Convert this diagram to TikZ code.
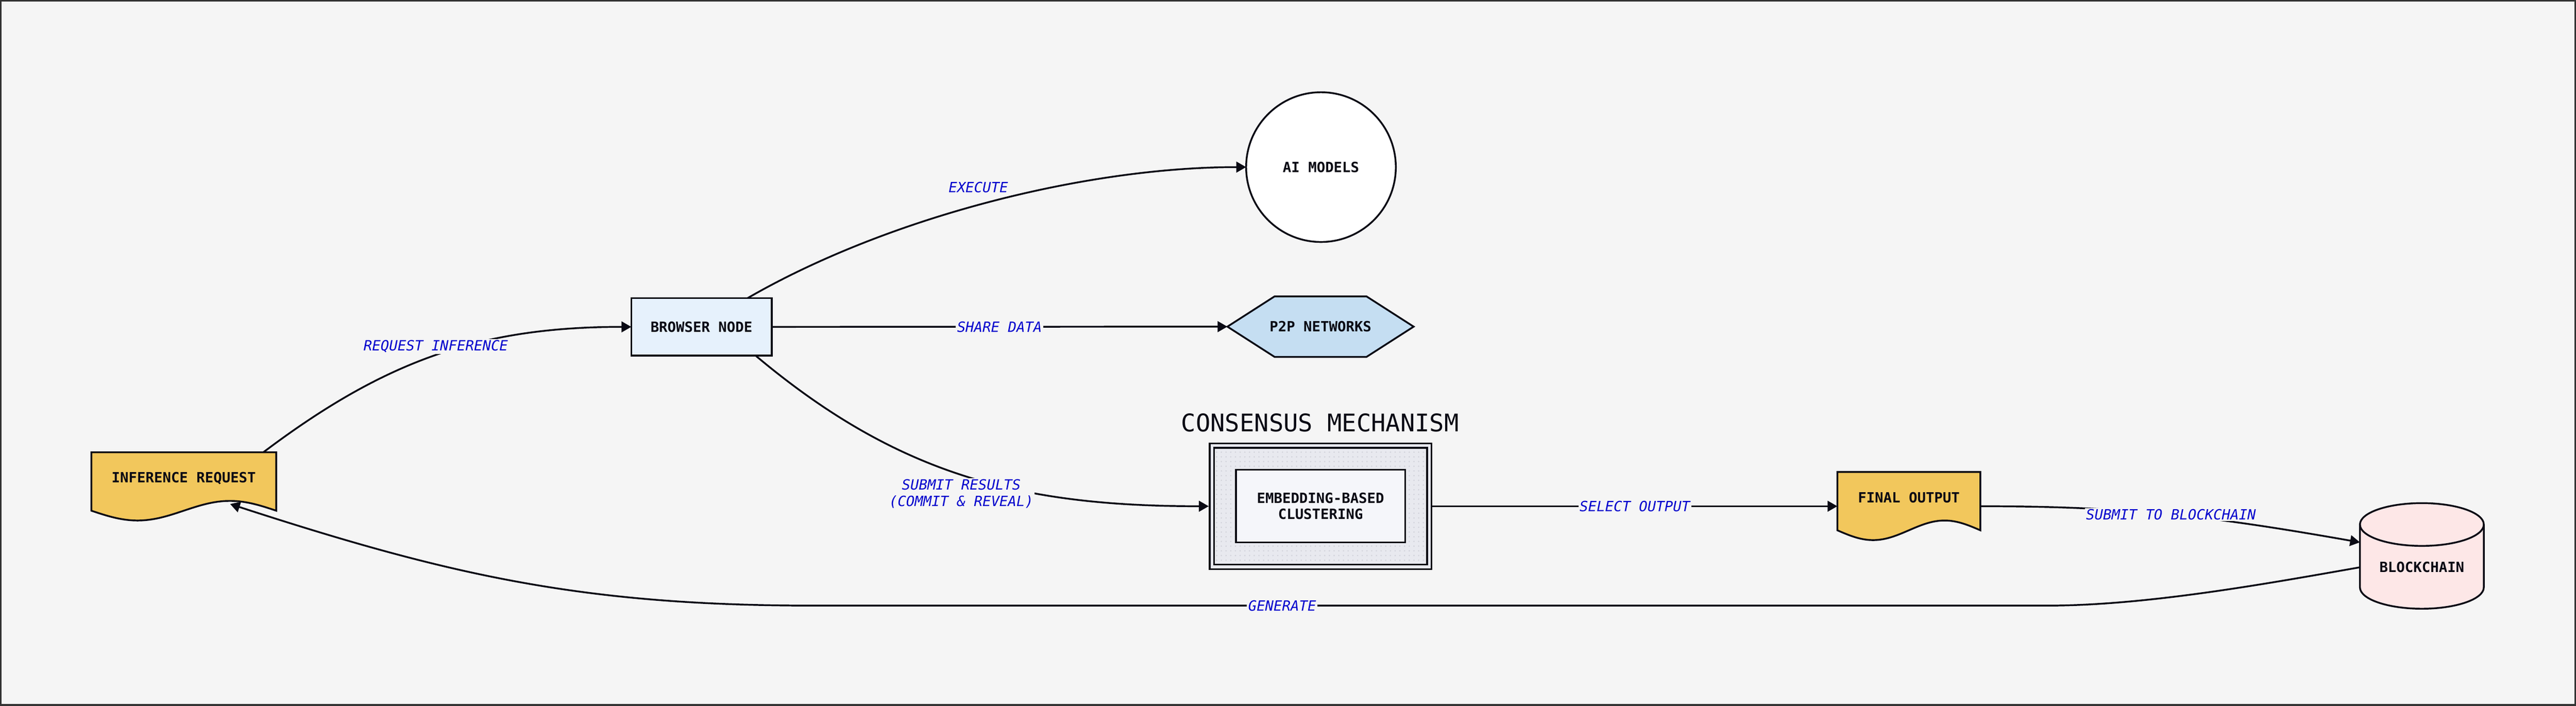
\documentclass[tikz,border=0pt]{standalone}
\usepackage{fontspec}
\setmonofont{DejaVu Sans Mono}
\usetikzlibrary{arrows.meta,backgrounds,patterns}
\definecolor{bgc}{HTML}{F5F5F5}
\definecolor{framec}{HTML}{333333}
\definecolor{ink}{HTML}{0A0A14}
\definecolor{lblue}{HTML}{0000CD}
\definecolor{gold}{HTML}{F2C75C}
\definecolor{bnfill}{HTML}{E6F1FC}
\definecolor{p2pfill}{HTML}{C5DEF2}
\definecolor{cmfill}{HTML}{E8E9EF}
\definecolor{cminner}{HTML}{F5F6FA}
\definecolor{bcfill}{HTML}{FDE7E7}
\definecolor{dotc}{HTML}{D2D3DB}
\tikzset{
  nbox/.style={font=\ttfamily\bfseries\fontsize{9}{10.4}\selectfont, text=ink, align=center, inner sep=0pt, outer sep=0pt},
  flow/.style={draw=ink, line width=0.04cm, -{Triangle[length=0.22cm,width=0.24cm]}},
  elabel/.style={font=\ttfamily\itshape\fontsize{9}{10.4}\selectfont, text=lblue, fill=bgc, inner sep=0.03cm, align=center},
  shp/.style={draw=ink, line width=0.04cm}
}
\begin{document}
\begin{tikzpicture}
	\useasboundingbox (0,0) rectangle (57.82,15.84);
	\node[nbox, minimum width=4.15cm, minimum height=1.16cm] (ir) at (4.125,5.11) {INFERENCE REQUEST};
	\node[nbox, minimum width=3.15cm, minimum height=1.29cm, draw=ink, line width=0.04cm, fill=bnfill] (bn) at (15.745,8.505) {BROWSER NODE};
	\node[nbox, circle, minimum size=3.36cm, draw=ink, line width=0.04cm, fill=white] (ai) at (29.65,12.09) {AI MODELS};
	\node[nbox, minimum width=4.18cm, minimum height=1.36cm] (p2p) at (29.64,8.51) {P2P NETWORKS};
	\node[font=\ttfamily\fontsize{15.5}{18}\selectfont, text=ink] (cmt) at (29.63,6.35) {CONSENSUS MECHANISM};
	\node[minimum width=4.88cm, minimum height=2.72cm, draw=ink, line width=0.04cm, double=cmfill, double distance=0.06cm, preaction={fill=cmfill}, pattern=dots, pattern color=dotc, outer sep=0.07cm] (cm) at (29.64,4.48) {};
	\node[nbox, minimum width=3.80cm, minimum height=1.63cm, draw=ink, line width=0.04cm, fill=cminner] (emb) at (29.64,4.485) {EMBEDDING-BASED\\CLUSTERING};
	\node[nbox, minimum width=3.21cm, minimum height=1.16cm] (fo) at (42.845,4.67) {FINAL OUTPUT};
	\node[nbox, minimum width=2.78cm] (bc) at (54.36,3.11) {BLOCKCHAIN};
	\begin{scope}[on background layer]
	\draw[line width=0.04cm, draw=framec, fill=bgc] (0.02,0.02) rectangle (57.80,15.82);
	\draw[shp, fill=gold] (ir.north east) -- (ir.north west) -- ([yshift=-0.15cm]ir.south west) sin ++(1.0375,-0.22) cos ++(1.0375,0.22) sin ++(1.0375,0.22) cos ++(1.0375,-0.22) -- cycle;
	\draw[shp, fill=gold] (fo.north east) -- (fo.north west) -- ([yshift=-0.15cm]fo.south west) sin ++(0.8025,-0.22) cos ++(0.8025,0.22) sin ++(0.8025,0.22) cos ++(0.8025,-0.22) -- cycle;
	\draw[shp, fill=p2pfill] (p2p.west) -- ([xshift=1.06cm]p2p.north west) -- ([xshift=-1.06cm]p2p.north east) -- (p2p.east) -- ([xshift=-1.06cm]p2p.south east) -- ([xshift=1.06cm]p2p.south west) -- cycle;
	\draw[shp, fill=bcfill] ([yshift=0.96cm]bc.west) -- ([yshift=-0.45cm]bc.west) arc[start angle=180, end angle=360, x radius=1.39, y radius=0.48] -- ([yshift=0.96cm]bc.east) arc[start angle=0, end angle=180, x radius=1.39, y radius=0.48] -- cycle;
	\draw[shp] ([yshift=0.96cm]bc.west) arc[start angle=180, end angle=360, x radius=1.39, y radius=0.48];
	\end{scope}
	\draw[flow] ([xshift=-0.29cm]ir.north east) to[out=37,in=180] node[elabel, midway, yshift=0.2cm]{REQUEST INFERENCE} (bn.west);
	\draw[flow] ([xshift=-0.54cm]bn.north east) to[out=30,in=180,looseness=0.8] node[elabel, pos=0.48, yshift=0.4cm]{EXECUTE} (ai.west);
	\draw[flow] (bn.east) -- node[elabel, midway]{SHARE DATA} (p2p.west);
	\draw[flow] ([xshift=-0.36cm]bn.south east) to[out=-40,in=180] node[elabel, midway, yshift=-0.4cm, xshift=-0.1cm]{SUBMIT RESULTS\\(COMMIT \& REVEAL)} (cm.west);
	\draw[flow] (cm.east) -- node[elabel, midway]{SELECT OUTPUT} (cm.east -| fo.west);
	\draw[flow] (cm.east -| fo.east) to[out=0,in=170] node[elabel, midway]{SUBMIT TO BLOCKCHAIN} ([yshift=0.56cm]bc.west);
	\draw[flow] (bc.west) to[out=190,in=0,looseness=0.8] ++(-7.03,-0.86) -- node[elabel, pos=0.62]{GENERATE} ++(-27.68,0) to[out=180,in=-18] ([xshift=1.04cm]ir.south);
\end{tikzpicture}
\end{document}
